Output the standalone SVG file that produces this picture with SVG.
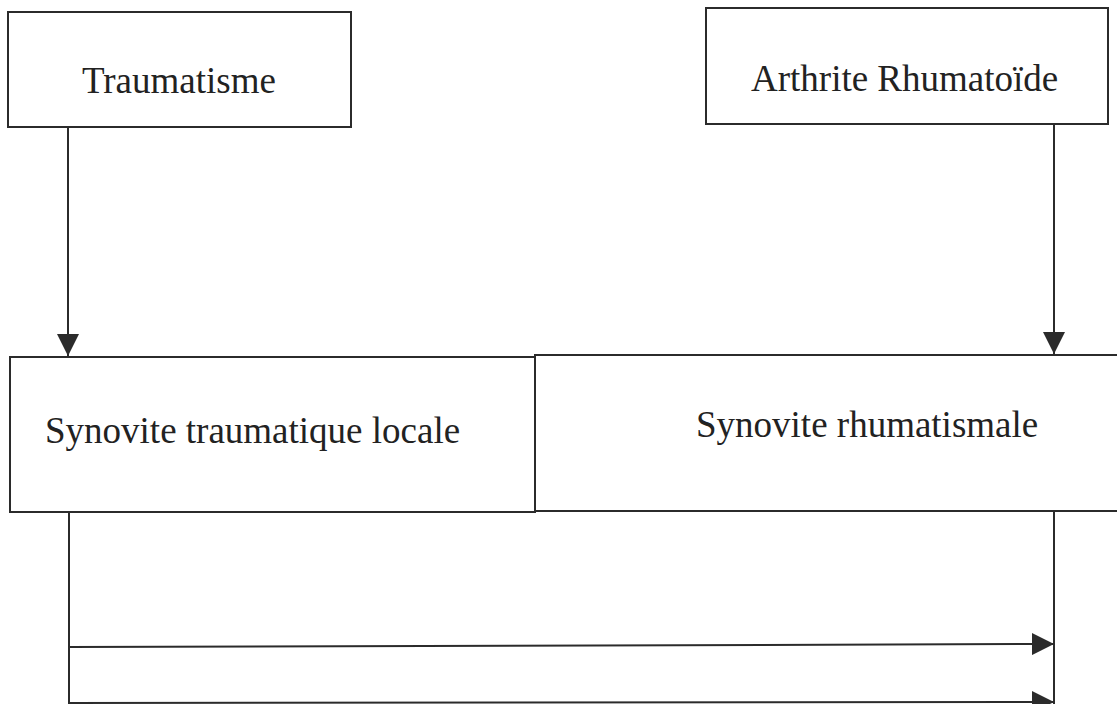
<svg xmlns="http://www.w3.org/2000/svg" width="1117" height="704" viewBox="0 0 1117 704">
  <style>
    .box { fill: #ffffff; stroke: #2b2b2b; stroke-width: 2; }
    .label { font-size: 37px; fill: #222222; }
    .edge { fill: none; stroke: #2b2b2b; stroke-width: 2; }
  </style>
  <defs>
    <marker id="head" markerUnits="userSpaceOnUse" markerWidth="22" markerHeight="22" viewBox="0 0 20 20" refX="20" refY="10" orient="auto">
      <path d="M0,0 L20,10 L0,20 Z" fill="#2b2b2b"/>
    </marker>
  </defs>
  <rect width="1117" height="704" fill="#ffffff"/>

  <g id="traumatisme" font-family="Liberation Serif, DejaVu Serif, serif">
    <rect class="box" x="8" y="12" width="343" height="115"/>
    <text class="label" x="82" y="93">Traumatisme</text>
  </g>

  <g id="arthrite-rhumatoide" font-family="Liberation Serif, DejaVu Serif, serif">
    <rect class="box" x="706" y="8" width="402" height="116"/>
    <text class="label" x="751" y="91">Arthrite Rhumatoïde</text>
  </g>

  <g id="synovite-traumatique" font-family="Liberation Serif, DejaVu Serif, serif">
    <rect class="box" x="10" y="357" width="525" height="155"/>
    <text class="label" x="45" y="443">Synovite traumatique locale</text>
  </g>

  <g id="synovite-rhumatismale" font-family="Liberation Serif, DejaVu Serif, serif">
    <rect class="box" x="535" y="355" width="600" height="156"/>
    <text class="label" x="696" y="437">Synovite rhumatismale</text>
  </g>

  <g id="connectors">
    <line class="edge" x1="68" y1="127" x2="68" y2="356" marker-end="url(#head)"/>
    <line class="edge" x1="1054" y1="124" x2="1054" y2="354" marker-end="url(#head)"/>
    <line class="edge" x1="69" y1="512" x2="69" y2="706"/>
    <line class="edge" x1="1054" y1="511" x2="1054" y2="706"/>
    <line class="edge" x1="69" y1="647" x2="1054" y2="644" marker-end="url(#head)"/>
    <line class="edge" x1="69" y1="703" x2="1054" y2="702" marker-end="url(#head)"/>
  </g>
</svg>
